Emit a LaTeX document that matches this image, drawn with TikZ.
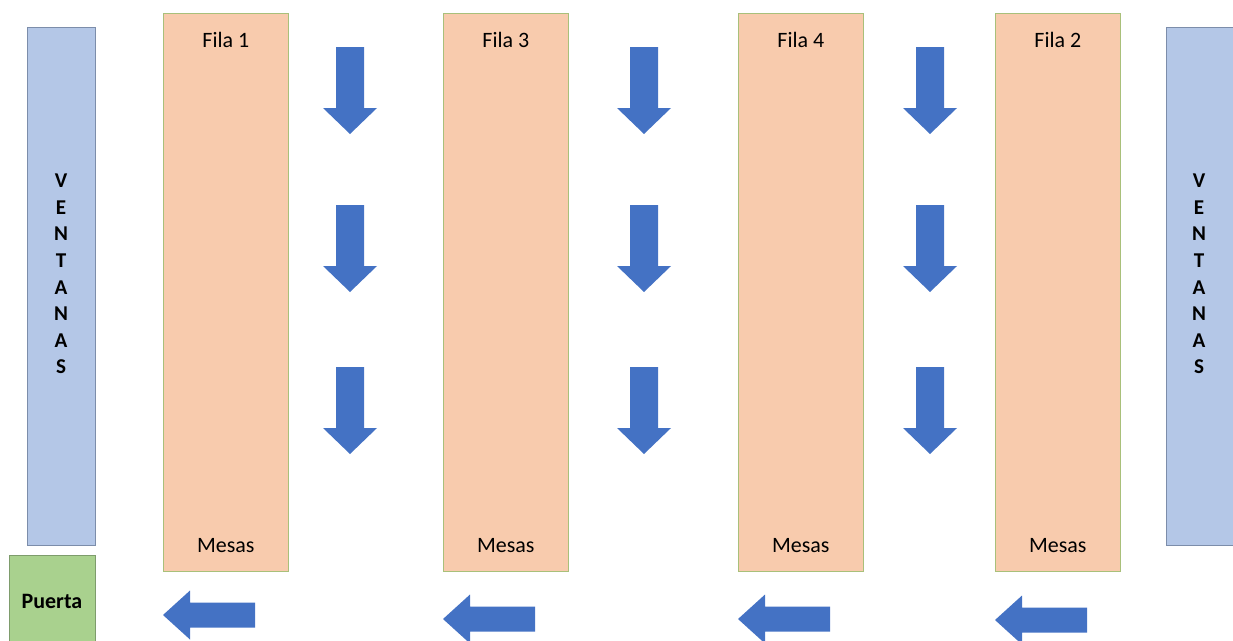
\documentclass[tikz,border=0pt]{standalone}
\usepackage{fontspec}
\setmainfont{Carlito}
\definecolor{MyPeach}{HTML}{F8CBAD}
\definecolor{MyPeachB}{HTML}{A9C07A}
\definecolor{MyWin}{HTML}{B4C7E7}
\definecolor{MyWinB}{HTML}{7C8DAA}
\definecolor{MyDoor}{HTML}{A9D18E}
\definecolor{MyDoorB}{HTML}{7E9C6C}
\definecolor{MyArrow}{HTML}{4472C4}
\usetikzlibrary{positioning}
\tikzset{%
  fila/.style={rectangle, draw=MyPeachB, fill=MyPeach, thin, anchor=north west, inner sep=0pt,
    minimum width=2.5cm, minimum height=11.16cm},
  ventana/.style={rectangle, draw=MyWinB, fill=MyWin, thin, anchor=north west, inner sep=0pt,
    minimum width=1.36cm, minimum height=10.36cm},
  puerta/.style={rectangle, draw=MyDoorB, fill=MyDoor, thin, anchor=north west, inner sep=0pt,
    minimum width=1.72cm, minimum height=1.9cm, font=\fontsize{12.5}{15}\selectfont\bfseries},
  titulo/.style={font=\fontsize{12.5}{15}\selectfont, inner sep=0pt},
  letras/.style={font=\fontsize{12}{15.1}\selectfont\bfseries, align=center, inner sep=0pt},
  flecha abajo/.pic={code={
    \fill[MyArrow] (-14,0) -- (14,0) -- (14,61) -- (27,61) -- (0,87) -- (-27,61) -- (-14,61) -- cycle;
  }},
  flecha izq/.pic={code={
    \fill[MyArrow] (0,0) -- (27,-24.5) -- (27,-12.5) -- (92,-12.5) -- (92,12.5) -- (27,12.5) -- (27,24.5) -- cycle;
  }}
}
\begin{document}
\begin{tikzpicture}[x=0.02cm, y=-0.02cm]
 \useasboundingbox (0,0) rectangle (1233,640);
 \begin{scope}
 \clip (0,0) rectangle (1233,640);

 % ventanas y puerta
 \node[ventana] (vizq) at (27,27) {};
 \node[ventana] (vder) at (1166,27) {};
 \node[puerta] (puerta) at (9,555) {};
 \node[letras] (lizq) at (61,274) {V\\E\\N\\T\\A\\N\\A\\S};
 \node[letras] (lder) at (1199,274) {V\\E\\N\\T\\A\\N\\A\\S};
 \node[puerta, draw=none, fill=none, anchor=center, minimum width=0pt, minimum height=0pt] (tpuerta) at (52,601) {Puerta};
 \end{scope}

 % filas de mesas
 \node[fila] (f1) at (163,13) {};
 \node[fila] (f3) at (443,13) {};
 \node[fila] (f4) at (738,13) {};
 \node[fila] (f2) at (995,13) {};

 \foreach \f/\n in {f1/1, f3/3, f4/4, f2/2} {
   \node[titulo, below=0.38cm of \f.north] (t\f) {Fila \n};
   \node[titulo, above=0.38cm of \f.south] (m\f) {Mesas};
 }

 % flechas hacia abajo
 \foreach \x in {350, 644, 930}
   \foreach \y in {47, 205, 367}
     \pic at (\x,\y) {flecha abajo};

 % flechas hacia la puerta
 \pic at (163,615) {flecha izq};
 \pic at (443,619) {flecha izq};
 \pic at (738,619) {flecha izq};
 \pic at (995,620) {flecha izq};

\end{tikzpicture}
\end{document}
